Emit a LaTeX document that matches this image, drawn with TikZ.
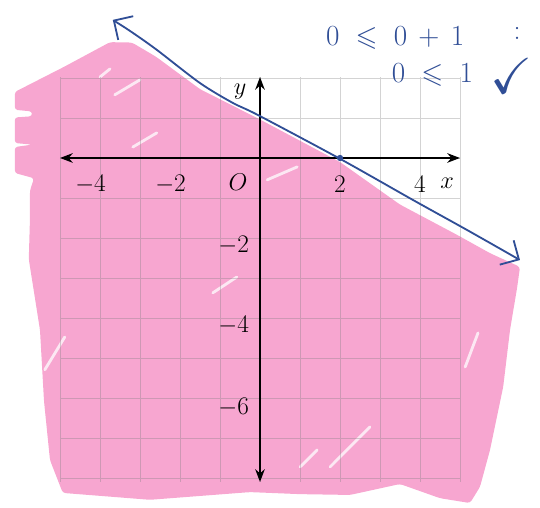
\documentclass[tikz,border=0pt]{standalone}
\usepackage{amsmath}
\usepackage{amssymb}
\usepackage{fontspec}
\usetikzlibrary{arrows.meta}
\definecolor{hlpink}{RGB}{247,166,208}
\definecolor{penblue}{RGB}{48,78,150}

\begin{document}
\begin{tikzpicture}[x=1cm, y=1.0125cm,
    pinkfill/.style={fill=hlpink, rounded corners=2pt},
    streak/.style={white, line width=2pt, line cap=round, opacity=0.75},
    gridline/.style={gray, opacity=0.35, line width=0.6pt},
    axis/.style={line width=1.1pt, {Stealth[length=3.2mm, width=2.4mm]}-{Stealth[length=3.2mm, width=2.4mm]}},
    boundary/.style={penblue, line width=1.3pt, {Straight Barb[length=3.5mm, width=7mm]}-{Straight Barb[length=3.5mm, width=7mm]}},
    dot/.style={circle, fill=penblue, minimum size=4.5pt, inner sep=0pt},
    ticklab/.style={font=\fontsize{18}{20}\selectfont, inner sep=0pt},
    pen/.style={penblue, font=\fontsize{20}{22}\selectfont, inner sep=0pt}]
    \useasboundingbox (-6.5,-8.642) rectangle (7.0,3.901);

    % shaded half-plane
    \fill[pinkfill] (-3.75,2.86) -- (-4.9,2.25) -- (-6.13,1.63) -- (-6.13,1.19) -- (-5.7,1.15)
        -- (-5.7,1.03) -- (-6.13,1.0) -- (-6.13,0.37) -- (-5.7,0.33) -- (-6.13,0.27)
        -- (-6.13,-0.37) -- (-5.65,-0.5) -- (-5.75,-0.8) -- (-5.75,-1.46) -- (-5.78,-2.5)
        -- (-5.5,-4.25) -- (-5.4,-6.0) -- (-5.25,-7.46) -- (-4.93,-8.27) -- (-2.75,-8.44)
        -- (-0.25,-8.25) -- (1.0,-8.3) -- (2.25,-8.32) -- (3.5,-8.05) -- (4.5,-8.4)
        -- (5.25,-8.52) -- (5.5,-8.12) -- (5.75,-7.21) -- (6.08,-5.65) -- (6.25,-4.25)
        -- (6.43,-3.19) -- (6.5,-2.69) -- (5.75,-2.35) -- (4.93,-1.9) -- (3.5,-1.15)
        -- (2,-0.1) -- (0,0.95) -- (-1.5,1.7) -- (-2.6,2.5) -- (-3.2,2.85) -- cycle;
    \draw[streak] (-3.63,1.56) -- (-3.0,1.93);
    \draw[streak] (-4.0,2.0) -- (-3.75,2.2);
    \draw[streak] (-3.18,0.27) -- (-2.58,0.62);
    \draw[streak] (0.18,-0.54) -- (0.93,-0.22);
    \draw[streak] (-1.18,-3.33) -- (-0.58,-2.94);
    \draw[streak] (1.75,-7.63) -- (2.75,-6.64);
    \draw[streak] (1.0,-7.63) -- (1.43,-7.21);
    \draw[streak] (-5.38,-5.23) -- (-4.88,-4.42);
    \draw[streak] (5.13,-5.16) -- (5.45,-4.32);

    \draw[gridline] (-5,-8) grid (5,2);

    % axes
    \coordinate (xl) at (-5,0);
    \coordinate (xr) at (5,0);
    \coordinate (yb) at (0,-8);
    \coordinate (yt) at (0,2);
    \draw[axis] (xl) -- (xr);
    \draw[axis] (yb) -- (yt);

    \node[ticklab] (xm4) at (-4,-0.65) {\llap{$-$}4};
    \node[ticklab] (xm2) at (-2,-0.65) {\llap{$-$}2};
    \node[ticklab] (orig) at (-0.55,-0.6) {$O$};
    \node[ticklab] (xp2) at (2,-0.65) {2};
    \node[ticklab] (xp4) at (4,-0.65) {4};
    \node[ticklab] (xlab) at (4.68,-0.62) {$x$};
    \node[ticklab] (ylab) at (-0.5,1.65) {$y$};
    \node[ticklab] (ym2) at (-0.42,-2.15) {\llap{$-$}2};
    \node[ticklab] (ym4) at (-0.42,-4.12) {\llap{$-$}4};
    \node[ticklab] (ym6) at (-0.42,-6.15) {\llap{$-$}6};

    % boundary line
    \draw[boundary] plot[smooth] coordinates {(-3.68,3.41) (-3.18,3.09) (-2.58,2.67) (-1.5,1.85)
        (-0.68,1.36) (-0.05,1.06) (2,-0.02) (3.83,-1.04) (5.18,-1.78) (6.5,-2.52)};
    \node[dot] (xint) at (2,0) {};

    % test point
    \node[pen] (testa) at (3.38,2.95) {$0\;\leqslant\;0\,+\,1$};
    \node[pen] (colon) at (6.43,3.08) {:};
    \node[pen] (testb) at (4.31,2.05) {$0\;\leqslant\;1$};
    \node[pen, font=\fontsize{36}{38}\selectfont] (tick) at (6.3,2.02) {$\checkmark$};
\end{tikzpicture}
\end{document}
